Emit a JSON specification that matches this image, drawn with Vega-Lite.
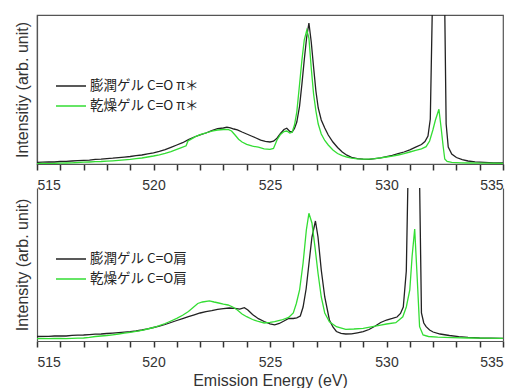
{
  "$schema": "https://vega.github.io/schema/vega-lite/v6.json",
  "padding": {"left": 13, "top": 14, "right": 0, "bottom": 0},
  "bounds": "flush",
  "spacing": 24,
  "config": {
    "font": "Noto Sans CJK JP",
    "view": {"stroke": null},
    "axis": {
      "grid": false,
      "domainColor": "#555555",
      "domainWidth": 1.2,
      "labelColor": "#333333",
      "titleColor": "#333333",
      "labelFont": "Liberation Sans",
      "titleFont": "Liberation Sans",
      "titleFontWeight": "normal"
    },
    "legend": {
      "orient": "none",
      "legendX": 18,
      "legendY": 62,
      "title": null,
      "symbolType": "stroke",
      "symbolSize": 900,
      "symbolStrokeWidth": 1.6,
      "clipHeight": 18,
      "rowPadding": 2,
      "labelFont": "Noto Sans CJK JP",
      "labelFontSize": 13.5,
      "labelColor": "#222222",
      "labelOffset": 3,
      "labelLimit": 300
    }
  },
  "datasets": {
    "top": [
      {"series": "膨潤ゲル C=O π＊", "E": 515.0, "I": 1.7},
      {"series": "膨潤ゲル C=O π＊", "E": 515.25, "I": 1.9},
      {"series": "膨潤ゲル C=O π＊", "E": 515.5, "I": 2.1},
      {"series": "膨潤ゲル C=O π＊", "E": 515.75, "I": 2.0},
      {"series": "膨潤ゲル C=O π＊", "E": 516.0, "I": 2.5},
      {"series": "膨潤ゲル C=O π＊", "E": 516.25, "I": 2.7},
      {"series": "膨潤ゲル C=O π＊", "E": 516.5, "I": 3.0},
      {"series": "膨潤ゲル C=O π＊", "E": 516.75, "I": 3.3},
      {"series": "膨潤ゲル C=O π＊", "E": 517.0, "I": 3.6},
      {"series": "膨潤ゲル C=O π＊", "E": 517.25, "I": 3.9},
      {"series": "膨潤ゲル C=O π＊", "E": 517.5, "I": 4.6},
      {"series": "膨潤ゲル C=O π＊", "E": 517.75, "I": 4.8},
      {"series": "膨潤ゲル C=O π＊", "E": 518.0, "I": 5.4},
      {"series": "膨潤ゲル C=O π＊", "E": 518.25, "I": 5.8},
      {"series": "膨潤ゲル C=O π＊", "E": 518.5, "I": 6.4},
      {"series": "膨潤ゲル C=O π＊", "E": 518.75, "I": 6.9},
      {"series": "膨潤ゲル C=O π＊", "E": 519.0, "I": 7.5},
      {"series": "膨潤ゲル C=O π＊", "E": 519.25, "I": 8.4},
      {"series": "膨潤ゲル C=O π＊", "E": 519.5, "I": 9.0},
      {"series": "膨潤ゲル C=O π＊", "E": 519.75, "I": 10.2},
      {"series": "膨潤ゲル C=O π＊", "E": 520.0, "I": 11.2},
      {"series": "膨潤ゲル C=O π＊", "E": 520.25, "I": 12.6},
      {"series": "膨潤ゲル C=O π＊", "E": 520.5, "I": 14.3},
      {"series": "膨潤ゲル C=O π＊", "E": 520.75, "I": 16.6},
      {"series": "膨潤ゲル C=O π＊", "E": 521.0, "I": 19.0},
      {"series": "膨潤ゲル C=O π＊", "E": 521.25, "I": 21.3},
      {"series": "膨潤ゲル C=O π＊", "E": 521.5, "I": 24.4},
      {"series": "膨潤ゲル C=O π＊", "E": 521.75, "I": 27.0},
      {"series": "膨潤ゲル C=O π＊", "E": 522.0, "I": 29.2},
      {"series": "膨潤ゲル C=O π＊", "E": 522.25, "I": 31.0},
      {"series": "膨潤ゲル C=O π＊", "E": 522.5, "I": 33.3},
      {"series": "膨潤ゲル C=O π＊", "E": 522.75, "I": 35.4},
      {"series": "膨潤ゲル C=O π＊", "E": 523.0, "I": 36.0},
      {"series": "膨潤ゲル C=O π＊", "E": 523.15, "I": 36.9},
      {"series": "膨潤ゲル C=O π＊", "E": 523.3, "I": 36.2},
      {"series": "膨潤ゲル C=O π＊", "E": 523.45, "I": 35.0},
      {"series": "膨潤ゲル C=O π＊", "E": 523.6, "I": 34.2},
      {"series": "膨潤ゲル C=O π＊", "E": 523.8, "I": 32.0},
      {"series": "膨潤ゲル C=O π＊", "E": 524.0, "I": 30.0},
      {"series": "膨潤ゲル C=O π＊", "E": 524.2, "I": 28.0},
      {"series": "膨潤ゲル C=O π＊", "E": 524.4, "I": 26.0},
      {"series": "膨潤ゲル C=O π＊", "E": 524.6, "I": 23.8},
      {"series": "膨潤ゲル C=O π＊", "E": 524.8, "I": 22.6},
      {"series": "膨潤ゲル C=O π＊", "E": 525.0, "I": 22.0},
      {"series": "膨潤ゲル C=O π＊", "E": 525.15, "I": 22.8},
      {"series": "膨潤ゲル C=O π＊", "E": 525.3, "I": 25.8},
      {"series": "膨潤ゲル C=O π＊", "E": 525.45, "I": 30.5},
      {"series": "膨潤ゲル C=O π＊", "E": 525.6, "I": 34.5},
      {"series": "膨潤ゲル C=O π＊", "E": 525.72, "I": 35.8},
      {"series": "膨潤ゲル C=O π＊", "E": 525.85, "I": 32.5},
      {"series": "膨潤ゲル C=O π＊", "E": 525.95, "I": 32.0},
      {"series": "膨潤ゲル C=O π＊", "E": 526.05, "I": 35.5},
      {"series": "膨潤ゲル C=O π＊", "E": 526.15, "I": 42},
      {"series": "膨潤ゲル C=O π＊", "E": 526.27, "I": 58},
      {"series": "膨潤ゲル C=O π＊", "E": 526.37, "I": 80},
      {"series": "膨潤ゲル C=O π＊", "E": 526.47, "I": 104},
      {"series": "膨潤ゲル C=O π＊", "E": 526.57, "I": 126},
      {"series": "膨潤ゲル C=O π＊", "E": 526.67, "I": 141},
      {"series": "膨潤ゲル C=O π＊", "E": 526.77, "I": 122},
      {"series": "膨潤ゲル C=O π＊", "E": 526.87, "I": 97},
      {"series": "膨潤ゲル C=O π＊", "E": 526.97, "I": 73},
      {"series": "膨潤ゲル C=O π＊", "E": 527.07, "I": 56},
      {"series": "膨潤ゲル C=O π＊", "E": 527.2, "I": 44},
      {"series": "膨潤ゲル C=O π＊", "E": 527.35, "I": 36},
      {"series": "膨潤ゲル C=O π＊", "E": 527.5, "I": 29},
      {"series": "膨潤ゲル C=O π＊", "E": 527.7, "I": 22},
      {"series": "膨潤ゲル C=O π＊", "E": 527.9, "I": 16.5},
      {"series": "膨潤ゲル C=O π＊", "E": 528.1, "I": 12},
      {"series": "膨潤ゲル C=O π＊", "E": 528.3, "I": 8.8},
      {"series": "膨潤ゲル C=O π＊", "E": 528.5, "I": 6.6},
      {"series": "膨潤ゲル C=O π＊", "E": 528.75, "I": 5.3},
      {"series": "膨潤ゲル C=O π＊", "E": 529.0, "I": 4.8},
      {"series": "膨潤ゲル C=O π＊", "E": 529.25, "I": 4.7},
      {"series": "膨潤ゲル C=O π＊", "E": 529.5, "I": 5.3},
      {"series": "膨潤ゲル C=O π＊", "E": 529.75, "I": 6.1},
      {"series": "膨潤ゲル C=O π＊", "E": 530.0, "I": 7.3},
      {"series": "膨潤ゲル C=O π＊", "E": 530.25, "I": 8.6},
      {"series": "膨潤ゲル C=O π＊", "E": 530.5, "I": 10.3},
      {"series": "膨潤ゲル C=O π＊", "E": 530.75, "I": 12.0},
      {"series": "膨潤ゲル C=O π＊", "E": 531.0, "I": 14.2},
      {"series": "膨潤ゲル C=O π＊", "E": 531.25, "I": 16.8},
      {"series": "膨潤ゲル C=O π＊", "E": 531.5, "I": 19.5},
      {"series": "膨潤ゲル C=O π＊", "E": 531.65, "I": 22.5},
      {"series": "膨潤ゲル C=O π＊", "E": 531.78, "I": 28},
      {"series": "膨潤ゲル C=O π＊", "E": 531.88, "I": 45},
      {"series": "膨潤ゲル C=O π＊", "E": 531.97, "I": 160},
      {"series": "膨潤ゲル C=O π＊", "E": 532.2, "I": 600},
      {"series": "膨潤ゲル C=O π＊", "E": 532.5, "I": 155},
      {"series": "膨潤ゲル C=O π＊", "E": 532.56, "I": 40},
      {"series": "膨潤ゲル C=O π＊", "E": 532.65, "I": 17},
      {"series": "膨潤ゲル C=O π＊", "E": 532.8, "I": 10},
      {"series": "膨潤ゲル C=O π＊", "E": 533.0, "I": 6.5},
      {"series": "膨潤ゲル C=O π＊", "E": 533.25, "I": 4.3},
      {"series": "膨潤ゲル C=O π＊", "E": 533.5, "I": 3.0},
      {"series": "膨潤ゲル C=O π＊", "E": 533.8, "I": 2.2},
      {"series": "膨潤ゲル C=O π＊", "E": 534.2, "I": 1.6},
      {"series": "膨潤ゲル C=O π＊", "E": 534.6, "I": 1.2},
      {"series": "膨潤ゲル C=O π＊", "E": 535.0, "I": 1.0},
      {"series": "乾燥ゲル C=O π＊", "E": 515.0, "I": 0.3},
      {"series": "乾燥ゲル C=O π＊", "E": 515.25, "I": 0.5},
      {"series": "乾燥ゲル C=O π＊", "E": 515.5, "I": 0.4},
      {"series": "乾燥ゲル C=O π＊", "E": 515.75, "I": 0.7},
      {"series": "乾燥ゲル C=O π＊", "E": 516.0, "I": 0.8},
      {"series": "乾燥ゲル C=O π＊", "E": 516.25, "I": 1.0},
      {"series": "乾燥ゲル C=O π＊", "E": 516.5, "I": 1.2},
      {"series": "乾燥ゲル C=O π＊", "E": 516.75, "I": 1.5},
      {"series": "乾燥ゲル C=O π＊", "E": 517.0, "I": 1.8},
      {"series": "乾燥ゲル C=O π＊", "E": 517.25, "I": 2.0},
      {"series": "乾燥ゲル C=O π＊", "E": 517.5, "I": 2.3},
      {"series": "乾燥ゲル C=O π＊", "E": 517.75, "I": 2.5},
      {"series": "乾燥ゲル C=O π＊", "E": 518.0, "I": 2.9},
      {"series": "乾燥ゲル C=O π＊", "E": 518.25, "I": 3.2},
      {"series": "乾燥ゲル C=O π＊", "E": 518.5, "I": 3.6},
      {"series": "乾燥ゲル C=O π＊", "E": 518.75, "I": 4.1},
      {"series": "乾燥ゲル C=O π＊", "E": 519.0, "I": 4.6},
      {"series": "乾燥ゲル C=O π＊", "E": 519.25, "I": 5.3},
      {"series": "乾燥ゲル C=O π＊", "E": 519.5, "I": 6.0},
      {"series": "乾燥ゲル C=O π＊", "E": 519.75, "I": 7.0},
      {"series": "乾燥ゲル C=O π＊", "E": 520.0, "I": 8.0},
      {"series": "乾燥ゲル C=O π＊", "E": 520.25, "I": 9.2},
      {"series": "乾燥ゲル C=O π＊", "E": 520.5, "I": 10.6},
      {"series": "乾燥ゲル C=O π＊", "E": 520.75, "I": 12.4},
      {"series": "乾燥ゲル C=O π＊", "E": 521.0, "I": 14.6},
      {"series": "乾燥ゲル C=O π＊", "E": 521.2, "I": 16.4},
      {"series": "乾燥ゲル C=O π＊", "E": 521.4, "I": 18.2},
      {"series": "乾燥ゲル C=O π＊", "E": 521.48, "I": 23.0},
      {"series": "乾燥ゲル C=O π＊", "E": 521.6, "I": 24.6},
      {"series": "乾燥ゲル C=O π＊", "E": 521.8, "I": 27.4},
      {"series": "乾燥ゲル C=O π＊", "E": 522.0, "I": 29.4},
      {"series": "乾燥ゲル C=O π＊", "E": 522.25, "I": 31.0},
      {"series": "乾燥ゲル C=O π＊", "E": 522.5, "I": 32.8},
      {"series": "乾燥ゲル C=O π＊", "E": 522.75, "I": 34.0},
      {"series": "乾燥ゲル C=O π＊", "E": 523.0, "I": 34.5},
      {"series": "乾燥ゲル C=O π＊", "E": 523.2, "I": 34.6},
      {"series": "乾燥ゲル C=O π＊", "E": 523.35, "I": 33.0},
      {"series": "乾燥ゲル C=O π＊", "E": 523.5, "I": 29.0},
      {"series": "乾燥ゲル C=O π＊", "E": 523.65, "I": 24.8},
      {"series": "乾燥ゲル C=O π＊", "E": 523.8, "I": 22.0},
      {"series": "乾燥ゲル C=O π＊", "E": 524.0, "I": 19.6},
      {"series": "乾燥ゲル C=O π＊", "E": 524.25, "I": 17.8},
      {"series": "乾燥ゲル C=O π＊", "E": 524.5, "I": 16.8},
      {"series": "乾燥ゲル C=O π＊", "E": 524.75, "I": 15.2},
      {"series": "乾燥ゲル C=O π＊", "E": 525.0, "I": 14.6},
      {"series": "乾燥ゲル C=O π＊", "E": 525.15, "I": 15.5},
      {"series": "乾燥ゲル C=O π＊", "E": 525.3, "I": 24.0},
      {"series": "乾燥ゲル C=O π＊", "E": 525.45, "I": 29.5},
      {"series": "乾燥ゲル C=O π＊", "E": 525.6, "I": 32.5},
      {"series": "乾燥ゲル C=O π＊", "E": 525.72, "I": 33.0},
      {"series": "乾燥ゲル C=O π＊", "E": 525.85, "I": 31.0},
      {"series": "乾燥ゲル C=O π＊", "E": 525.95, "I": 31.8},
      {"series": "乾燥ゲル C=O π＊", "E": 526.05, "I": 39},
      {"series": "乾燥ゲル C=O π＊", "E": 526.15, "I": 52},
      {"series": "乾燥ゲル C=O π＊", "E": 526.27, "I": 80},
      {"series": "乾燥ゲル C=O π＊", "E": 526.37, "I": 104},
      {"series": "乾燥ゲル C=O π＊", "E": 526.47, "I": 124},
      {"series": "乾燥ゲル C=O π＊", "E": 526.58, "I": 134},
      {"series": "乾燥ゲル C=O π＊", "E": 526.67, "I": 126},
      {"series": "乾燥ゲル C=O π＊", "E": 526.77, "I": 96},
      {"series": "乾燥ゲル C=O π＊", "E": 526.87, "I": 70},
      {"series": "乾燥ゲル C=O π＊", "E": 526.97, "I": 53},
      {"series": "乾燥ゲル C=O π＊", "E": 527.07, "I": 40},
      {"series": "乾燥ゲル C=O π＊", "E": 527.2, "I": 30},
      {"series": "乾燥ゲル C=O π＊", "E": 527.35, "I": 23.5},
      {"series": "乾燥ゲル C=O π＊", "E": 527.5, "I": 19},
      {"series": "乾燥ゲル C=O π＊", "E": 527.7, "I": 14},
      {"series": "乾燥ゲル C=O π＊", "E": 527.9, "I": 10.5},
      {"series": "乾燥ゲル C=O π＊", "E": 528.1, "I": 8.4},
      {"series": "乾燥ゲル C=O π＊", "E": 528.3, "I": 7.0},
      {"series": "乾燥ゲル C=O π＊", "E": 528.5, "I": 5.8},
      {"series": "乾燥ゲル C=O π＊", "E": 528.75, "I": 5.2},
      {"series": "乾燥ゲル C=O π＊", "E": 529.0, "I": 4.8},
      {"series": "乾燥ゲル C=O π＊", "E": 529.25, "I": 4.9},
      {"series": "乾燥ゲル C=O π＊", "E": 529.5, "I": 5.4},
      {"series": "乾燥ゲル C=O π＊", "E": 529.75, "I": 6.2},
      {"series": "乾燥ゲル C=O π＊", "E": 530.0, "I": 7.0},
      {"series": "乾燥ゲル C=O π＊", "E": 530.25, "I": 7.8},
      {"series": "乾燥ゲル C=O π＊", "E": 530.5, "I": 9.0},
      {"series": "乾燥ゲル C=O π＊", "E": 530.75, "I": 10.4},
      {"series": "乾燥ゲル C=O π＊", "E": 531.0, "I": 12.0},
      {"series": "乾燥ゲル C=O π＊", "E": 531.25, "I": 13.6},
      {"series": "乾燥ゲル C=O π＊", "E": 531.5, "I": 15.2},
      {"series": "乾燥ゲル C=O π＊", "E": 531.7, "I": 17.3},
      {"series": "乾燥ゲル C=O π＊", "E": 531.85, "I": 23},
      {"series": "乾燥ゲル C=O π＊", "E": 531.99, "I": 34},
      {"series": "乾燥ゲル C=O π＊", "E": 532.1, "I": 44},
      {"series": "乾燥ゲル C=O π＊", "E": 532.25, "I": 54.7},
      {"series": "乾燥ゲル C=O π＊", "E": 532.35, "I": 35},
      {"series": "乾燥ゲル C=O π＊", "E": 532.43, "I": 18},
      {"series": "乾燥ゲル C=O π＊", "E": 532.5, "I": 5},
      {"series": "乾燥ゲル C=O π＊", "E": 532.6, "I": 2.5},
      {"series": "乾燥ゲル C=O π＊", "E": 532.8, "I": 1.6},
      {"series": "乾燥ゲル C=O π＊", "E": 533.2, "I": 1.2},
      {"series": "乾燥ゲル C=O π＊", "E": 533.6, "I": 1.0},
      {"series": "乾燥ゲル C=O π＊", "E": 534.0, "I": 0.8},
      {"series": "乾燥ゲル C=O π＊", "E": 534.5, "I": 0.8},
      {"series": "乾燥ゲル C=O π＊", "E": 535.0, "I": 0.7}
    ],
    "bottom": [
      {"series": "膨潤ゲル C=O肩", "E": 515.0, "I": 4.5},
      {"series": "膨潤ゲル C=O肩", "E": 515.25, "I": 4.7},
      {"series": "膨潤ゲル C=O肩", "E": 515.5, "I": 4.6},
      {"series": "膨潤ゲル C=O肩", "E": 515.75, "I": 5.0},
      {"series": "膨潤ゲル C=O肩", "E": 516.0, "I": 5.2},
      {"series": "膨潤ゲル C=O肩", "E": 516.25, "I": 5.0},
      {"series": "膨潤ゲル C=O肩", "E": 516.5, "I": 5.6},
      {"series": "膨潤ゲル C=O肩", "E": 516.75, "I": 5.8},
      {"series": "膨潤ゲル C=O肩", "E": 517.0, "I": 6.0},
      {"series": "膨潤ゲル C=O肩", "E": 517.25, "I": 6.4},
      {"series": "膨潤ゲル C=O肩", "E": 517.5, "I": 6.8},
      {"series": "膨潤ゲル C=O肩", "E": 517.75, "I": 7.0},
      {"series": "膨潤ゲル C=O肩", "E": 518.0, "I": 7.5},
      {"series": "膨潤ゲル C=O肩", "E": 518.25, "I": 7.9},
      {"series": "膨潤ゲル C=O肩", "E": 518.5, "I": 8.3},
      {"series": "膨潤ゲル C=O肩", "E": 518.75, "I": 8.8},
      {"series": "膨潤ゲル C=O肩", "E": 519.0, "I": 9.3},
      {"series": "膨潤ゲル C=O肩", "E": 519.25, "I": 10.0},
      {"series": "膨潤ゲル C=O肩", "E": 519.5, "I": 11.0},
      {"series": "膨潤ゲル C=O肩", "E": 519.75, "I": 12.2},
      {"series": "膨潤ゲル C=O肩", "E": 520.0, "I": 13.5},
      {"series": "膨潤ゲル C=O肩", "E": 520.25, "I": 14.8},
      {"series": "膨潤ゲル C=O肩", "E": 520.5, "I": 16.5},
      {"series": "膨潤ゲル C=O肩", "E": 520.75, "I": 18.5},
      {"series": "膨潤ゲル C=O肩", "E": 521.0, "I": 20.5},
      {"series": "膨潤ゲル C=O肩", "E": 521.25, "I": 22.4},
      {"series": "膨潤ゲル C=O肩", "E": 521.5, "I": 24.3},
      {"series": "膨潤ゲル C=O肩", "E": 521.75, "I": 26.2},
      {"series": "膨潤ゲル C=O肩", "E": 522.0, "I": 28.0},
      {"series": "膨潤ゲル C=O肩", "E": 522.25, "I": 29.4},
      {"series": "膨潤ゲル C=O肩", "E": 522.5, "I": 30.4},
      {"series": "膨潤ゲル C=O肩", "E": 522.75, "I": 31.6},
      {"series": "膨潤ゲル C=O肩", "E": 523.0, "I": 32.4},
      {"series": "膨潤ゲル C=O肩", "E": 523.25, "I": 33.0},
      {"series": "膨潤ゲル C=O肩", "E": 523.5, "I": 32.6},
      {"series": "膨潤ゲル C=O肩", "E": 523.7, "I": 31.8},
      {"series": "膨潤ゲル C=O肩", "E": 523.9, "I": 33.4},
      {"series": "膨潤ゲル C=O肩", "E": 524.05, "I": 31.0},
      {"series": "膨潤ゲル C=O肩", "E": 524.25, "I": 26.5},
      {"series": "膨潤ゲル C=O肩", "E": 524.5, "I": 22.3},
      {"series": "膨潤ゲル C=O肩", "E": 524.75, "I": 19.5},
      {"series": "膨潤ゲル C=O肩", "E": 525.0, "I": 17.2},
      {"series": "膨潤ゲル C=O肩", "E": 525.2, "I": 16.2},
      {"series": "膨潤ゲル C=O肩", "E": 525.4, "I": 17.5},
      {"series": "膨潤ゲル C=O肩", "E": 525.6, "I": 20.0},
      {"series": "膨潤ゲル C=O肩", "E": 525.8, "I": 22.6},
      {"series": "膨潤ゲル C=O肩", "E": 526.0, "I": 22.5},
      {"series": "膨潤ゲル C=O肩", "E": 526.15, "I": 23.2},
      {"series": "膨潤ゲル C=O肩", "E": 526.3, "I": 25.0},
      {"series": "膨潤ゲル C=O肩", "E": 526.42, "I": 34},
      {"series": "膨潤ゲル C=O肩", "E": 526.55, "I": 52},
      {"series": "膨潤ゲル C=O肩", "E": 526.67, "I": 77},
      {"series": "膨潤ゲル C=O肩", "E": 526.8, "I": 104},
      {"series": "膨潤ゲル C=O肩", "E": 526.95, "I": 120},
      {"series": "膨潤ゲル C=O肩", "E": 527.06, "I": 104},
      {"series": "膨潤ゲル C=O肩", "E": 527.2, "I": 71},
      {"series": "膨潤ゲル C=O肩", "E": 527.35, "I": 44},
      {"series": "膨潤ゲル C=O肩", "E": 527.55, "I": 21},
      {"series": "膨潤ゲル C=O肩", "E": 527.7, "I": 14},
      {"series": "膨潤ゲル C=O肩", "E": 527.85, "I": 9.5},
      {"series": "膨潤ゲル C=O肩", "E": 528.05, "I": 7.6},
      {"series": "膨潤ゲル C=O肩", "E": 528.25, "I": 7.0},
      {"series": "膨潤ゲル C=O肩", "E": 528.5, "I": 7.2},
      {"series": "膨潤ゲル C=O肩", "E": 528.75, "I": 8.2},
      {"series": "膨潤ゲル C=O肩", "E": 529.0, "I": 9.3},
      {"series": "膨潤ゲル C=O肩", "E": 529.25, "I": 11.5},
      {"series": "膨潤ゲル C=O肩", "E": 529.5, "I": 14.8},
      {"series": "膨潤ゲル C=O肩", "E": 529.75, "I": 18.5},
      {"series": "膨潤ゲル C=O肩", "E": 530.0, "I": 21.0},
      {"series": "膨潤ゲル C=O肩", "E": 530.25, "I": 22.6},
      {"series": "膨潤ゲル C=O肩", "E": 530.45, "I": 24.0},
      {"series": "膨潤ゲル C=O肩", "E": 530.6, "I": 27.5},
      {"series": "膨潤ゲル C=O肩", "E": 530.72, "I": 34},
      {"series": "膨潤ゲル C=O肩", "E": 530.85, "I": 70},
      {"series": "膨潤ゲル C=O肩", "E": 530.92, "I": 160},
      {"series": "膨潤ゲル C=O肩", "E": 531.17, "I": 500},
      {"series": "膨潤ゲル C=O肩", "E": 531.42, "I": 160},
      {"series": "膨潤ゲル C=O肩", "E": 531.5, "I": 28},
      {"series": "膨潤ゲル C=O肩", "E": 531.6, "I": 18},
      {"series": "膨潤ゲル C=O肩", "E": 531.7, "I": 14.3},
      {"series": "膨潤ゲル C=O肩", "E": 531.85, "I": 11},
      {"series": "膨潤ゲル C=O肩", "E": 532.0, "I": 9},
      {"series": "膨潤ゲル C=O肩", "E": 532.3, "I": 7},
      {"series": "膨潤ゲル C=O肩", "E": 532.7, "I": 5.5},
      {"series": "膨潤ゲル C=O肩", "E": 533.1, "I": 4.3},
      {"series": "膨潤ゲル C=O肩", "E": 533.5, "I": 3.6},
      {"series": "膨潤ゲル C=O肩", "E": 534.0, "I": 3.0},
      {"series": "膨潤ゲル C=O肩", "E": 534.5, "I": 2.8},
      {"series": "膨潤ゲル C=O肩", "E": 535.0, "I": 2.7},
      {"series": "乾燥ゲル C=O肩", "E": 515.0, "I": 2.3},
      {"series": "乾燥ゲル C=O肩", "E": 515.25, "I": 2.5},
      {"series": "乾燥ゲル C=O肩", "E": 515.5, "I": 2.4},
      {"series": "乾燥ゲル C=O肩", "E": 515.75, "I": 2.6},
      {"series": "乾燥ゲル C=O肩", "E": 516.0, "I": 2.5},
      {"series": "乾燥ゲル C=O肩", "E": 516.25, "I": 2.4},
      {"series": "乾燥ゲル C=O肩", "E": 516.5, "I": 2.6},
      {"series": "乾燥ゲル C=O肩", "E": 516.75, "I": 2.8},
      {"series": "乾燥ゲル C=O肩", "E": 517.0, "I": 3.0},
      {"series": "乾燥ゲル C=O肩", "E": 517.25, "I": 3.6},
      {"series": "乾燥ゲル C=O肩", "E": 517.5, "I": 4.5},
      {"series": "乾燥ゲル C=O肩", "E": 517.75, "I": 5.0},
      {"series": "乾燥ゲル C=O肩", "E": 518.0, "I": 5.5},
      {"series": "乾燥ゲル C=O肩", "E": 518.25, "I": 6.2},
      {"series": "乾燥ゲル C=O肩", "E": 518.5, "I": 7.0},
      {"series": "乾燥ゲル C=O肩", "E": 518.75, "I": 7.8},
      {"series": "乾燥ゲル C=O肩", "E": 519.0, "I": 8.7},
      {"series": "乾燥ゲル C=O肩", "E": 519.25, "I": 9.7},
      {"series": "乾燥ゲル C=O肩", "E": 519.5, "I": 10.6},
      {"series": "乾燥ゲル C=O肩", "E": 519.75, "I": 12.0},
      {"series": "乾燥ゲル C=O肩", "E": 520.0, "I": 13.5},
      {"series": "乾燥ゲル C=O肩", "E": 520.25, "I": 15.3},
      {"series": "乾燥ゲル C=O肩", "E": 520.5, "I": 17.5},
      {"series": "乾燥ゲル C=O肩", "E": 520.75, "I": 20.0},
      {"series": "乾燥ゲル C=O肩", "E": 521.0, "I": 22.6},
      {"series": "乾燥ゲル C=O肩", "E": 521.25, "I": 25.8},
      {"series": "乾燥ゲル C=O肩", "E": 521.5, "I": 29.5},
      {"series": "乾燥ゲル C=O肩", "E": 521.7, "I": 33.5},
      {"series": "乾燥ゲル C=O肩", "E": 521.9, "I": 37.5},
      {"series": "乾燥ゲル C=O肩", "E": 522.1, "I": 39.0},
      {"series": "乾燥ゲル C=O肩", "E": 522.4, "I": 40.2},
      {"series": "乾燥ゲル C=O肩", "E": 522.6, "I": 39.0},
      {"series": "乾燥ゲル C=O肩", "E": 522.8, "I": 38.0},
      {"series": "乾燥ゲル C=O肩", "E": 523.0, "I": 36.8},
      {"series": "乾燥ゲル C=O肩", "E": 523.2, "I": 36.0},
      {"series": "乾燥ゲル C=O肩", "E": 523.4, "I": 34.0},
      {"series": "乾燥ゲル C=O肩", "E": 523.6, "I": 31.0},
      {"series": "乾燥ゲル C=O肩", "E": 523.8, "I": 27.0},
      {"series": "乾燥ゲル C=O肩", "E": 524.0, "I": 24.3},
      {"series": "乾燥ゲル C=O肩", "E": 524.25, "I": 21.5},
      {"series": "乾燥ゲル C=O肩", "E": 524.5, "I": 19.5},
      {"series": "乾燥ゲル C=O肩", "E": 524.75, "I": 18.0},
      {"series": "乾燥ゲル C=O肩", "E": 525.0, "I": 18.6},
      {"series": "乾燥ゲル C=O肩", "E": 525.2, "I": 19.3},
      {"series": "乾燥ゲル C=O肩", "E": 525.5, "I": 21.0},
      {"series": "乾燥ゲル C=O肩", "E": 525.8, "I": 23.6},
      {"series": "乾燥ゲル C=O肩", "E": 526.0, "I": 28},
      {"series": "乾燥ゲル C=O肩", "E": 526.13, "I": 37.5},
      {"series": "乾燥ゲル C=O肩", "E": 526.27, "I": 51},
      {"series": "乾燥ゲル C=O肩", "E": 526.42, "I": 78},
      {"series": "乾燥ゲル C=O肩", "E": 526.56, "I": 111},
      {"series": "乾燥ゲル C=O肩", "E": 526.67, "I": 127.7},
      {"series": "乾燥ゲル C=O肩", "E": 526.8, "I": 118},
      {"series": "乾燥ゲル C=O肩", "E": 526.93, "I": 94},
      {"series": "乾燥ゲル C=O肩", "E": 527.06, "I": 68},
      {"series": "乾燥ゲル C=O肩", "E": 527.2, "I": 44},
      {"series": "乾燥ゲル C=O肩", "E": 527.35, "I": 28},
      {"series": "乾燥ゲル C=O肩", "E": 527.55, "I": 19.3},
      {"series": "乾燥ゲル C=O肩", "E": 527.85, "I": 14.3},
      {"series": "乾燥ゲル C=O肩", "E": 528.25, "I": 11.7},
      {"series": "乾燥ゲル C=O肩", "E": 528.6, "I": 12.0},
      {"series": "乾燥ゲル C=O肩", "E": 529.0, "I": 12.7},
      {"series": "乾燥ゲル C=O肩", "E": 529.4, "I": 14.3},
      {"series": "乾燥ゲル C=O肩", "E": 529.75, "I": 15.8},
      {"series": "乾燥ゲル C=O肩", "E": 530.0, "I": 17.0},
      {"series": "乾燥ゲル C=O肩", "E": 530.4, "I": 18.3},
      {"series": "乾燥ゲル C=O肩", "E": 530.7, "I": 24.2},
      {"series": "乾燥ゲル C=O肩", "E": 530.85, "I": 34},
      {"series": "乾燥ゲル C=O肩", "E": 531.0, "I": 51},
      {"series": "乾燥ゲル C=O肩", "E": 531.1, "I": 85},
      {"series": "乾燥ゲル C=O肩", "E": 531.21, "I": 112},
      {"series": "乾燥ゲル C=O肩", "E": 531.32, "I": 62},
      {"series": "乾燥ゲル C=O肩", "E": 531.42, "I": 14.3},
      {"series": "乾燥ゲル C=O肩", "E": 531.57, "I": 6},
      {"series": "乾燥ゲル C=O肩", "E": 531.8, "I": 4.5},
      {"series": "乾燥ゲル C=O肩", "E": 532.2, "I": 3.8},
      {"series": "乾燥ゲル C=O肩", "E": 532.8, "I": 3.3},
      {"series": "乾燥ゲル C=O肩", "E": 533.5, "I": 3.0},
      {"series": "乾燥ゲル C=O肩", "E": 534.2, "I": 2.8},
      {"series": "乾燥ゲル C=O肩", "E": 535.0, "I": 2.7}
    ]
  },
  "resolve": {"scale": {"color": "independent"}, "legend": {"color": "independent"}},
  "vconcat": [
    {
      "width": 466,
      "height": 149,
      "view": {"stroke": "#555555", "strokeWidth": 1.2},
      "data": {"name": "top"},
      "mark": {"type": "line", "clip": true, "strokeWidth": 1.3},
      "encoding": {
        "x": {
          "field": "E", "type": "quantitative",
          "scale": {"domain": [515, 535], "nice": false, "zero": false},
          "axis": {
            "title": null,
            "values": [515, 516, 517, 518, 519, 520, 521, 522, 523, 524, 525, 526, 527, 528, 529, 530, 531, 532, 533, 534, 535],
            "labelExpr": "datum.value % 5 === 0 ? datum.label : ''",
            "format": "d",
            "ticks": true,
            "tickColor": "#333333",
            "tickWidth": 1.5,
            "tickSize": 6,
            "labelPadding": 8,
            "labelFontSize": 14,
            "labelOverlap": false
          }
        },
        "y": {
          "field": "I", "type": "quantitative",
          "scale": {"domain": [0, 149], "nice": false},
          "axis": {
            "title": "Intensitiy (arb. unit)",
            "titleFontSize": 16,
            "titlePadding": 7,
            "ticks": false,
            "labels": false
          }
        },
        "color": {
          "field": "series", "type": "nominal",
          "scale": {"domain": ["膨潤ゲル C=O π＊", "乾燥ゲル C=O π＊"], "range": ["#222222", "#33dd33"]}
        }
      }
    },
    {
      "width": 466,
      "height": 153,
      "data": {"name": "bottom"},
      "encoding": {
        "x": {
          "field": "E", "type": "quantitative",
          "scale": {"domain": [515, 535], "nice": false, "zero": false},
          "axis": {
            "title": "Emission Energy (eV)",
            "titleFontSize": 16,
            "titlePadding": 3,
            "values": [515, 516, 517, 518, 519, 520, 521, 522, 523, 524, 525, 526, 527, 528, 529, 530, 531, 532, 533, 534, 535],
            "labelExpr": "datum.value % 5 === 0 ? datum.label : ''",
            "format": "d",
            "ticks": true,
            "tickColor": "#333333",
            "tickWidth": 1.5,
            "tickSize": 6,
            "labelPadding": 8,
            "labelFontSize": 14,
            "labelOverlap": false
          }
        },
        "color": {
          "field": "series", "type": "nominal",
          "scale": {"domain": ["膨潤ゲル C=O肩", "乾燥ゲル C=O肩"], "range": ["#222222", "#33dd33"]}
        }
      },
      "layer": [
        {
          "transform": [{"filter": "datum.series === '膨潤ゲル C=O肩'"}],
          "mark": {"type": "line", "clip": true, "strokeWidth": 1.3},
          "encoding": {
            "y": {
              "field": "I", "type": "quantitative",
              "scale": {"domain": [0, 153], "nice": false},
              "axis": {
                "title": "Intensity (arb. unit)",
                "titleFontSize": 16,
                "titlePadding": 7,
                "ticks": false,
                "labels": false
              }
            }
          }
        },
        {
          "transform": [{"filter": "datum.series === '乾燥ゲル C=O肩'"}],
          "mark": {"type": "line", "clip": true, "strokeWidth": 1.3},
          "encoding": {
            "y": {
              "field": "I", "type": "quantitative",
              "scale": {"domain": [0, 153], "nice": false},
              "axis": {
                "orient": "right",
                "title": null,
                "ticks": false,
                "labels": false
              }
            }
          }
        }
      ],
      "resolve": {"axis": {"y": "independent"}}
    }
  ]
}
